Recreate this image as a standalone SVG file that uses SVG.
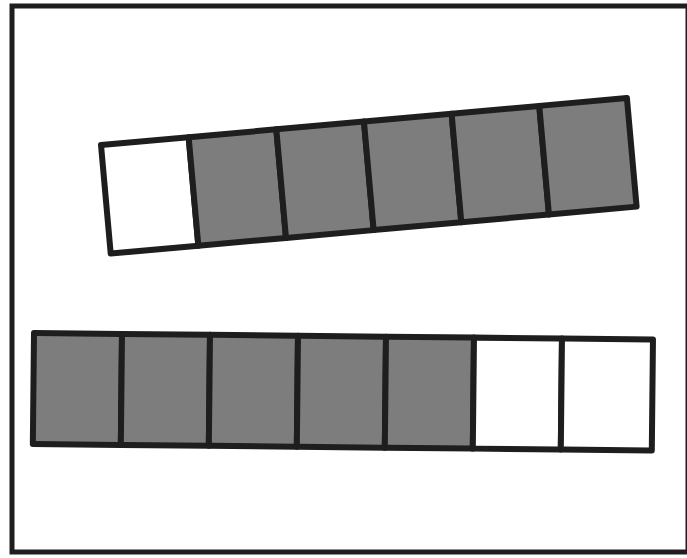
<svg xmlns="http://www.w3.org/2000/svg" width="687" height="558" viewBox="0 0 687 558">
<style>
.cell{stroke:#1e1e1e;stroke-width:6;stroke-linejoin:round}
.g{fill:#7d7d7d}
.w{fill:#ffffff}
.frame{fill:none;stroke:#1e1e1e;stroke-width:5}
</style>
<rect width="687" height="558" fill="#ffffff"/>
<rect class="frame" x="12" y="6" width="676" height="546"/>
<g id="strip-top" transform="translate(101,145) rotate(-5.1)">
<rect class="cell w" x="0" y="0" width="88" height="109"/>
<rect class="cell g" x="88" y="0" width="88" height="109"/>
<rect class="cell g" x="176" y="0" width="88" height="109"/>
<rect class="cell g" x="264" y="0" width="88" height="109"/>
<rect class="cell g" x="352" y="0" width="88" height="109"/>
<rect class="cell g" x="440" y="0" width="88" height="109"/>
</g>
<g id="strip-bottom" transform="translate(34,333) rotate(0.6)">
<rect class="cell g" x="0" y="0" width="88" height="111"/>
<rect class="cell g" x="88" y="0" width="88" height="111"/>
<rect class="cell g" x="176" y="0" width="88" height="111"/>
<rect class="cell g" x="264" y="0" width="88" height="111"/>
<rect class="cell g" x="352" y="0" width="88" height="111"/>
<rect class="cell w" x="440" y="0" width="88" height="111"/>
<rect class="cell w" x="528" y="0" width="91" height="111"/>
</g>
</svg>
